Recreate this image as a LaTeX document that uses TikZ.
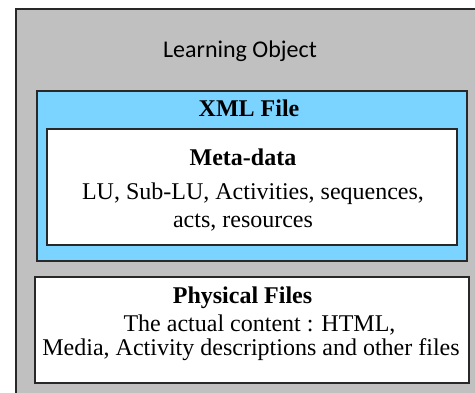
\documentclass[tikz,border=0pt]{standalone}
\usepackage{fontspec}
\setmainfont{Liberation Serif}
\newfontfamily\labelsans{Carlito}
\definecolor{panelgrey}{RGB}{192,192,192}
\definecolor{xmlblue}{RGB}{122,212,255}
\definecolor{edge}{RGB}{40,40,40}
\begin{document}
\begin{tikzpicture}[x=1pt,y=-1pt,
  frame/.style={draw=edge, line width=1.6pt, anchor=north west, inner sep=0pt},
  txt/.style={anchor=base, inner sep=0pt, font=\fontsize{24}{28}\selectfont},
  head/.style={txt, font=\fontsize{24}{28}\selectfont\bfseries}]
\useasboundingbox (0,0) rectangle (475,392);
\clip (0,0) rectangle (475,392);
\fill[white] (0,0) rectangle (475,392);

% outer panel: only its left and top edges fall inside the page
\node[anchor=north west, inner sep=0pt, fill=panelgrey, minimum width=480pt, minimum height=410pt] (object) at (16,9) {};
\draw[edge, line width=1.6pt] (object.south west) -- (object.north west) -- (object.north east);

% inner boxes
\node[frame, fill=xmlblue, minimum width=430pt, minimum height=170pt] (xml) at (36,90) {};
\node[frame, fill=white, minimum width=410pt, minimum height=116pt] (meta) at (46,128) {};
\node[frame, fill=white, minimum width=434pt, minimum height=106pt] (phys) at (34,276) {};

% labels
\node[txt, font=\fontsize{24}{28}\selectfont\labelsans] (objlabel) at (240,57) {Learning Object};
\node[head] (xmllabel) at (249,116.5) {XML File};
\node[head] (metalabel) at (243,165) {Meta-data};
\node[txt] (meta1) at (253,199) {LU, Sub-LU, Activities, sequences,};
\node[txt] (meta2) at (243,227) {acts, resources};
\node[head] (physlabel) at (242.5,303) {Physical Files};
\node[txt] (phys1) at (259.5,331) {The actual content : HTML,};
\node[txt] (phys2) at (251,355.5) {Media, Activity descriptions and other files};
\end{tikzpicture}
\end{document}
